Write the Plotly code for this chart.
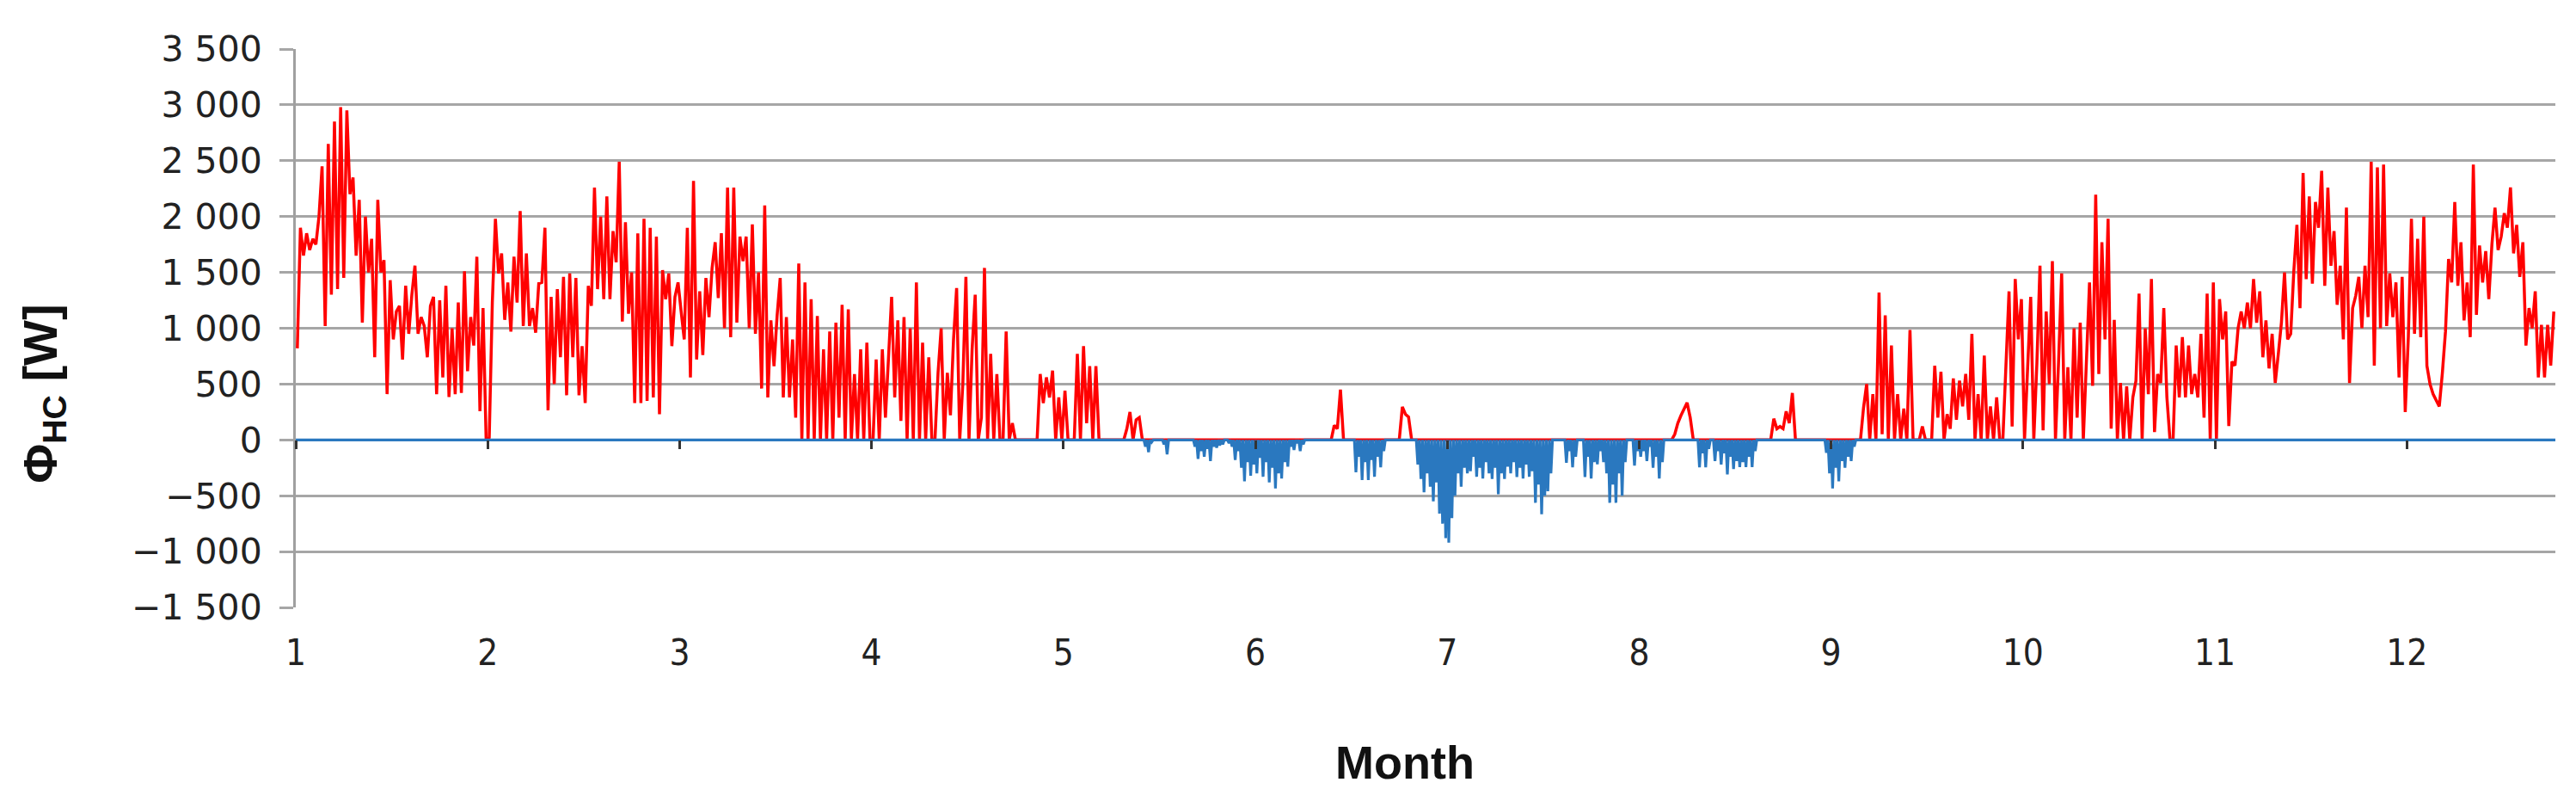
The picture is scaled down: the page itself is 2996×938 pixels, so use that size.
import plotly.graph_objects as go

# Half-day heating load values [W], one list per axis "month" (744 h = 62 half-days)
heat_m1 = [820,1900,1650,1850,1700,1800,1750,2000,2450,1020, 2650,1300,2850,1350,2980,1450,2950,2200,2350,1650,
           2150,1050,2000,1500,1800,740,2150,1500,1610,410, 1430,900,1150,1200,720,1380,950,1300,1560,950,
           1100,1020,740,1200,1280,410,1250,560,1380,385, 1000,410,1230,420,1510,615,1100,845,1640,256, 1180,0]
heat_m2 = [20,1230,1980,1490,1670,1075,1410,970,1640,1230, 2050,1020,1670,1020,1180,960,1400,1410,1900,265,
           1280,500,1350,740,1460,400,1490,740,1450,400, 840,330,1380,1200,2260,1350,2000,1260,2180,1260,
           1870,1590,2490,1060,1950,1130,1500,330,1850,330, 1980,350,1900,380,1820,230,1520,1260,1490,840, 1280,1410]
heat_m3 = [1150,900,1900,560,2320,720,1330,760,1450,1100, 1540,1770,1270,1850,1000,2260,920,2260,1050,1820,
           1600,1820,1000,1930,950,1500,460,2100,380,1070, 660,1110,1450,380,1100,380,900,200,1580,0,
           1410,0,1260,0,1110,0,810,0,970,0, 1050,200,1210,0,1170,0,590,0,810,0, 870,0]
heat_m4 = [0,720,0,810,200,690,1280,380,1070,170, 1100,0,1000,0,1410,0,870,0,740,0,
           0,600,1000,0,600,220,900,1360,0,500, 1460,0,810,1300,0,200,1540,0,770,0,
           590,0,0,970,0,150,0,0,0,0, 0,0,0,0,590,330,560,380,620,0, 380,0]
heat_m5 = [440,0,0,0,770,0,840,150,660,0, 660,0,0,0,0,0,0,0,0,0,
           100,250,0,180,200,0,0,0,0,0, 0,0,0,0,0,0,0,0,0,0,
           0,0,0,0,0,0,0,0,0,0, 0,0,0,0,0,0,0,0,0,0, 0,0]
heat_m6 = [0,0,0,0,0,0,0,0,0,0, 0,0,0,0,0,0,0,0,0,0,
           0,0,0,0,0,130,100,450,0,0, 0,0,0,0,0,0,0,0,0,0,
           0,0,0,0,0,0,0,295,230,205, 0,0,0,0,0,0,0,0,0,0, 0,0]
heat_m7 = [0,0,0,0,0,0,0,0,0,0, 0,0,0,0,0,0,0,0,0,0,
           0,0,0,0,0,0,0,0,0,0, 0,0,0,0,0,0,0,0,0,0,
           0,0,0,0,0,0,0,0,0,0, 0,0,0,0,0,0,0,0,0,0, 0,0]
heat_m8 = [0,0,0,0,0,0,0,0,0,0, 0,50,150,218,280,333,200,0,0,0,
           0,0,0,0,0,0,0,0,0,0, 0,0,0,0,0,0,0,0,0,0,
           0,0,0,190,100,120,100,256,150,420, 0,0,0,0,0,0,0,0,0,0, 0,0]
heat_m9 = [0,0,0,0,0,0,0,0,0,0, 290,500,0,410,0,1320,50,1115,0,845,
           0,410,0,280,0,985,0,0,0,120, 0,0,0,665,200,610,0,230,100,550,
           180,530,300,590,180,950,0,410,0,755, 0,300,0,380,0,0,640,1330,120,1440, 900,1260]
heat_m10 = [0,600,1280,0,690,1560,85,1150,500,1600, 0,700,1490,0,650,0,1000,200,1050,0,
            665,1410,485,2195,590,1770,900,1980,100,1075, 0,510,0,480,0,380,530,1310,0,1000,
            410,1440,70,590,510,1180,380,0,0,845, 380,920,380,845,410,590,380,950,200,1310, 0,1410]
heat_m11 = [0,1260,900,1150,125,700,665,1000,1150,1000, 1230,1000,1440,1050,1330,740,1070,640,950,510,
            770,1050,1500,900,950,1510,1925,1180,2390,1440, 2180,1400,2130,1900,2410,1380,2260,1560,1870,1210,
            1560,900,2080,510,1180,1290,1460,1000,1560,1100, 2490,665,2440,1000,2465,1020,1490,1100,1410,560, 1460,250]
heat_m12 = [920,1980,950,1800,920,2000,665,500,410,350, 300,600,970,1620,1410,2130,1380,1770,1070,1410,
            920,2465,1120,1740,1410,1690,1260,1750,2080,1700, 1820,2030,1900,2260,1670,1925,1460,1770,845,1180,
            1000,1330,560,1030,560,1030,665,1150]

# Half-day cooling load values [W] (negative), months with cooling
cool_m5 = [0,0,0,0,0,0,0,0,0,0, 0,0,0,0,0,0,0,0,0,0,
           0,0,0,0,0,0,-60,-110,-20,0, 0,0,-40,-130,0,0,0,0,0,0,
           0,0,-60,-170,-100,-150,-80,-190,-60,-70, -50,-40,0,-30,-60,-180,-100,-250,-370,-200, -320,-220]
cool_m6 = [-300,-160,-330,-200,-380,-250,-435,-300,-345,-200, -240,-60,-90,-30,-100,-40,0,0,0,0,
           0,0,0,0,0,0,0,0,0,0, 0,0,-290,-150,-360,-200,-360,-180,-330,-150,
           -245,-100,0,0,0,0,0,0,0,0, 0,0,-220,-350,-470,-300,-420,-550,-380,-660, -750,-880]
cool_m7 = [-920,-700,-500,-300,-420,-250,-300,-280,-150,-330, -250,-345,-200,-300,-350,-250,-486,-300,-350,-240,
           -300,-200,-333,-250,-345,-220,-330,-280,-563,-400, -665,-500,-460,-300,0,0,0,0,-205,-100,
           -245,-150,0,0,-333,-150,-345,-200,-218,-100, -200,-300,-563,-400,-563,-300,-500,-200,0,0, -230,-100]
cool_m8 = [-150,-100,-190,-60,-250,-150,-345,-200,0,0, 0,0,0,0,0,0,0,0,0,-245,
           -120,-245,-80,0,-190,-100,-220,-120,-310,-150, -260,-190,-243,-200,-243,-150,-243,-100,0,0,
           0,0,0,0,0,0,0,0,0,0, 0,0,0,0,0,0,0,0,0,0, -115,-300]
cool_m9 = [-435,-250,-370,-190,-250,-150,-190,-60]

month_ticks = [1, 2, 3, 4, 5, 6, 7, 8, 9, 10, 11, 12]
y_ticks = [-1500, -1000, -500, 0, 500, 1000, 1500, 2000, 2500, 3000, 3500]
y_labels = ["\u22121 500", "\u22121 000", "\u2212500", "0", "500", "1 000", "1 500",
            "2 000", "2 500", "3 000", "3 500"]

HOURS_PER_UNIT = 744.0
HOURS_YEAR = 8760

heat = (heat_m1 + heat_m2 + heat_m3 + heat_m4 + heat_m5 + heat_m6 + heat_m7 + heat_m8
        + heat_m9 + heat_m10 + heat_m11 + heat_m12)
n = len(heat)
cool_known = cool_m5 + cool_m6 + cool_m7 + cool_m8 + cool_m9
start = 4 * 62
cool = [0] * n
for i, v in enumerate(cool_known):
    cool[start + i] = v

def to_month(hour):
    return 1 + hour / HOURS_PER_UNIT

hx = [to_month(12 * j + 6) for j in range(n)]
cx, cy = [], []
for j in range(n):
    cx.append(to_month(12 * j)); cy.append(0)
    cx.append(to_month(12 * j + 6)); cy.append(cool[j])
cx.append(to_month(HOURS_YEAR)); cy.append(0)

xmax = to_month(HOURS_YEAR)

fig = go.Figure()
fig.add_trace(go.Scatter(x=hx, y=heat, mode="lines", line=dict(color="#ff0000", width=3.5),
                         showlegend=False, xaxis="x", yaxis="y"))
fig.add_trace(go.Scatter(x=cx, y=cy, mode="lines", line=dict(color="#2a78bf", width=3.2),
                         showlegend=False, xaxis="x2", yaxis="y"))

tickfont_x = dict(family="Liberation Sans Narrow, DejaVu Sans Condensed, Arial Narrow, sans-serif",
                  size=42, color="#222222")
fig.update_layout(
    width=2996, height=938,
    margin=dict(l=336, r=32, t=49, b=240),
    paper_bgcolor="white", plot_bgcolor="white",
    xaxis=dict(range=[1, xmax], tickmode="array", tickvals=month_ticks,
               ticktext=[str(m) for m in month_ticks], ticks="", showgrid=False,
               showline=False, zeroline=False, tickfont=tickfont_x, ticklabelstandoff=24),
    xaxis2=dict(range=[1, xmax], overlaying="x", anchor="free", position=0.3, side="bottom",
                tickmode="array", tickvals=month_ticks, ticks="outside", ticklen=10, tickwidth=3,
                tickcolor="#333333", showticklabels=False, showgrid=False, showline=False,
                zeroline=False),
    yaxis=dict(range=[-1500, 3500], tickmode="array", tickvals=y_ticks, ticktext=y_labels,
               showgrid=True, gridcolor="#a6a6a6", gridwidth=3, zeroline=False,
               showline=True, linecolor="#a0a0a0", linewidth=3,
               ticks="outside", ticklen=16, tickwidth=3, tickcolor="#a6a6a6",
               tickfont=dict(family="DejaVu Sans", size=41, color="#222222"),
               ticklabelstandoff=12),
    annotations=[
        dict(text="<b>Month</b>", xref="paper", yref="paper", x=(1626 - 336) / 2628, y=-0.277,
             showarrow=False, xanchor="center", yanchor="middle",
             font=dict(family="Liberation Sans", size=54, color="#111111")),
        dict(text="<b>\u03a6<sub>HC</sub> [W]</b>", xref="paper", yref="paper",
             x=-0.112, y=(698 - 450) / 649, textangle=-90, showarrow=False,
             xanchor="center", yanchor="middle",
             font=dict(family="Liberation Sans", size=56, color="#111111")),
    ],
)

fig.write_html("out.html")
